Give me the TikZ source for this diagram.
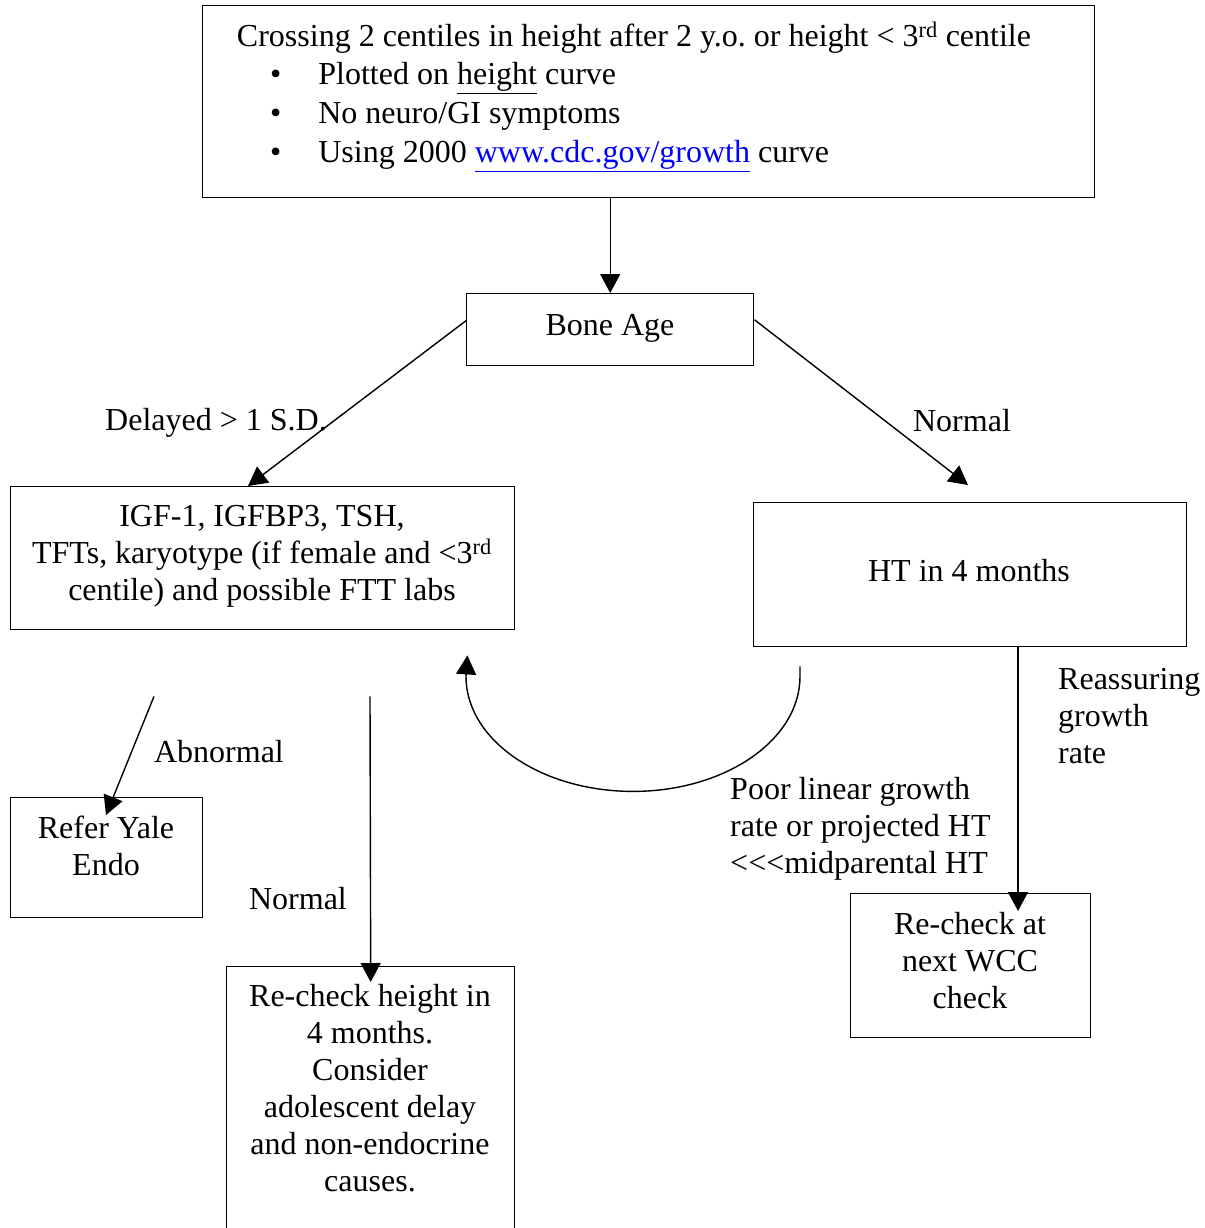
\documentclass[tikz,border=0pt]{standalone}
\usepackage{fontspec}
\setmainfont{Liberation Serif}
\usetikzlibrary{arrows.meta}
\definecolor{linkblue}{RGB}{0,0,255}
\frenchspacing
\begin{document}
\begin{tikzpicture}[x=1pt,y=-1pt,
  box/.style={draw, line width=1.4pt, inner sep=0pt, anchor=north west},
  txt/.style={inner sep=0pt, font=\fontsize{32}{37}\selectfont, align=center},
  ltxt/.style={inner sep=0pt, font=\fontsize{32}{37}\selectfont, align=left, anchor=west},
  conn/.style={line width=1.4pt, -{Triangle[length=19pt,width=20pt]}}]
\useasboundingbox (0,0) rectangle (1204,1228);
\fill[white] (0,0) rectangle (1204,1228);

% boxes
\node[box, minimum width=892pt, minimum height=192pt] (top) at (202,5) {};
\node[box, minimum width=287pt, minimum height=72pt] (bone) at (466,293) {};
\node[box, minimum width=504pt, minimum height=143pt] (igf) at (10,486) {};
\node[box, minimum width=433pt, minimum height=144pt] (ht) at (753,502) {};
\node[box, minimum width=192pt, minimum height=120pt] (refer) at (10,797) {};
\node[box, minimum width=288pt, minimum height=290pt] (recheckh) at (226,966) {};
\node[box, minimum width=240pt, minimum height=144pt] (wcc) at (850,893) {};

% box texts
\node[txt] (toptitle) at (634,38) {Crossing 2 centiles in height after 2 y.o. or height < 3\textsuperscript{rd} centile};
\node[ltxt, font=\fontsize{32}{39}\selectfont] (toplist) at (270,117) {\textbullet\hspace{37pt}Plotted on \underline{height} curve\\
\textbullet\hspace{37pt}No neuro/GI symptoms\\
\textbullet\hspace{37pt}Using 2000 {\color{linkblue}\underline{www.cdc.gov/growth}} curve};
\node[txt] (bonetext) at (610,328) {Bone Age};
\node[txt] (igftext) at (262,556) {IGF-1, IGFBP3, TSH,\\TFTs, karyotype (if female and <3\textsuperscript{rd}\\centile) and possible FTT labs};
\node[txt] (httext) at (969,571) {HT in 4 months};
\node[txt] (refertext) at (106,846) {Refer Yale\\Endo};
\node[txt] (rechecktext) at (370,1088) {Re-check height in\\4 months.\\Consider\\adolescent delay\\and non-endocrine\\causes.};
\node[txt] (wcctext) at (970,961) {Re-check at\\next WCC\\check};

% labels
\node[txt] (ldelayed) at (216,423) {Delayed > 1 S.D.};
\node[txt] (lnormal1) at (962,421) {Normal};
\node[txt] (labnormal) at (219,752) {Abnormal};
\node[txt] (lnormal2) at (298,899) {Normal};
\node[ltxt] (lpoor) at (730,829) {Poor linear growth\\rate or projected HT\\<{}<{}<midparental HT};
\node[ltxt] (lreassure) at (1058,716) {Reassuring\\growth\\rate};

% connector end points
\coordinate (delayedTip) at ([xshift=238pt]igf.north west);
\coordinate (normalTip) at ([xshift=215pt,yshift=17pt]ht.north west);
\coordinate (abnStart) at ([xshift=144pt,yshift=-66pt]igf.south west);
\coordinate (abnTip) at ([xshift=96pt,yshift=-18pt]refer.north west);
\coordinate (norStart) at ([xshift=360pt,yshift=-66pt]igf.south west);
\coordinate (norTip) at ([yshift=-16pt]recheckh.north);
\coordinate (loopStart) at ([xshift=47pt,yshift=-19pt]ht.south west);
\coordinate (loopTip) at ([xshift=-48pt,yshift=-25pt]igf.south east);
\coordinate (reaTip) at ([xshift=168pt,yshift=-18pt]wcc.north west);

% connectors
\draw[conn] (bone.north |- top.south) -- (bone.north);
\draw[conn] ([yshift=9pt]bone.west) -- (delayedTip);
\draw[conn] ([yshift=10pt]bone.east) -- (normalTip);
\draw[conn] (abnStart) -- (abnTip);
\draw[conn] (norStart) -- (norTip);
\draw[conn] (loopStart) -- ++(0,10) arc[start angle=0, end angle=180, x radius=167, y radius=115] -- (loopTip);
\draw[conn] ([xshift=265pt]ht.south west) -- (reaTip);
\end{tikzpicture}
\end{document}
